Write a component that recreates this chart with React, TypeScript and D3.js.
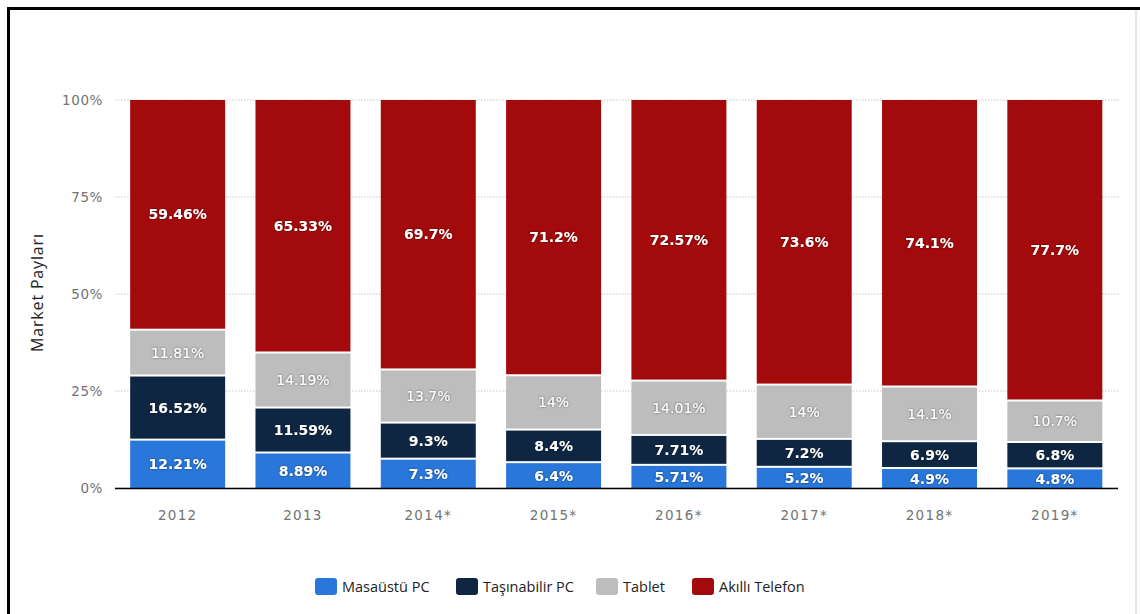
import React from "react";
import * as d3 from "d3";

const years = ["2012", "2013", "2014*", "2015*", "2016*", "2017*", "2018*", "2019*"];
const masaustu = [12.21, 8.89, 7.3, 6.4, 5.71, 5.2, 4.9, 4.8];
const tasinabilir = [16.52, 11.59, 9.3, 8.4, 7.71, 7.2, 6.9, 6.8];
const tablet = [11.81, 14.19, 13.7, 14, 14.01, 14, 14.1, 10.7];
const akilli = [59.46, 65.33, 69.7, 71.2, 72.57, 73.6, 74.1, 77.7];
const seriesNames = ["Masaüstü PC", "Taşınabilir PC", "Tablet", "Akıllı Telefon"];
const seriesColors = ["#2a77db", "#0f2642", "#bdbdbd", "#a30a0b"];
const yTicks = [0, 25, 50, 75, 100];

const W = 1140;
const H = 614;

export default function App() {
  const x = d3.scaleBand<string>().domain(years).range([115, 1117.5]).paddingInner(0.242).paddingOuter(0.121);
  const y = d3.scaleLinear().domain([0, 100]).range([488, 100]);
  const series = [masaustu, tasinabilir, tablet, akilli];
  const rows = years.map((yr, i) => {
    const o: any = { year: yr };
    seriesNames.forEach((n, s) => (o[n] = series[s][i]));
    return o;
  });
  const stacked = d3.stack<any>().keys(seriesNames)(rows);

  const legendX = [315, 456, 596, 692];
  const fontLbl = "'DejaVu Sans', Verdana, sans-serif";

  return (
    <div style={{ position: "fixed", left: 0, top: 0, width: W, height: H, background: "#fff" }}>
      <svg width={W} height={H} style={{ display: "block" }}>
        <defs>
          <filter id="sh" x="-20%" y="-40%" width="140%" height="180%">
            <feDropShadow dx="0" dy="0" stdDeviation="1.2" floodColor="#000" floodOpacity="0.55" />
          </filter>
        </defs>
        <rect x={0} y={0} width={W} height={H} fill="#fff" />
        {/* frame */}
        <line x1={1136} y1={10} x2={1136} y2={H} stroke="#dcdcdc" strokeWidth={1.5} />
        <rect x={7} y={7} width={W - 7} height={3} fill="#000" />
        <rect x={7} y={7} width={3} height={H - 7} fill="#000" />

        {/* gridlines */}
        {yTicks.map((t) => (
          <line key={"g" + t} x1={115} x2={1120} y1={y(t)} y2={y(t)} stroke="#c8c8c8" strokeWidth={1} strokeDasharray="1.5,1.5" />
        ))}
        {/* y tick labels */}
        {yTicks.map((t) => (
          <text key={"t" + t} x={103} y={y(t)} dy="0.35em" textAnchor="end" fontSize={13.5} fill="#727272" fontFamily={fontLbl} letterSpacing={0.6}>
            {t + "%"}
          </text>
        ))}
        {/* y title */}
        <text
          transform={`translate(43,293) rotate(-90)`}
          textAnchor="middle"
          fontSize={16}
          fill="#222"
          fontFamily="'Open Sans', sans-serif"
          textLength={118}
          lengthAdjust="spacing"
        >
          Market Payları
        </text>

        {/* bars */}
        {stacked.map((layer, s) =>
          layer.map((d, i) => {
            const yr = years[i];
            const top = y(d[1]);
            const bot = y(d[0]);
            const h = bot - top - (s === 0 ? 0 : 2);
            return (
              <rect key={s + "-" + i} x={x(yr)} y={top} width={x.bandwidth()} height={h} fill={seriesColors[s]} />
            );
          })
        )}
        {/* labels */}
        {stacked.map((layer, s) =>
          layer.map((d, i) => {
            const yr = years[i];
            const top = y(d[1]);
            const bot = y(d[0]) - (s === 0 ? 0 : 2);
            return (
              <text
                key={"l" + s + "-" + i}
                x={(x(yr) as number) + x.bandwidth() / 2}
                y={(top + bot) / 2}
                dy="0.36em"
                textAnchor="middle"
                fontSize={14}
                fontWeight={s === 2 ? "normal" : "bold"}
                fill="#fff"
                fontFamily={fontLbl}
                filter="url(#sh)"
              >
                {series[s][i] + "%"}
              </text>
            );
          })
        )}

        {/* axis baseline */}
        <line x1={115} x2={1118} y1={488.5} y2={488.5} stroke="#000" strokeWidth={1.3} />
        {/* x labels */}
        {years.map((yr) => (
          <text
            key={"x" + yr}
            x={(x(yr) as number) + x.bandwidth() / 2}
            y={515}
            dy="0.35em"
            textAnchor="middle"
            fontSize={13.5}
            fill="#727272"
            fontFamily={fontLbl}
            letterSpacing={1.3}
          >
            {yr}
          </text>
        ))}

        {/* legend */}
        {seriesNames.map((n, s) => (
          <g key={"lg" + n} transform={`translate(${legendX[s]},578)`}>
            <rect x={0} y={0} width={22} height={17} rx={3} fill={seriesColors[s]} />
            <text x={27} y={9} dy="0.35em" fontSize={14.5} fill="#222" fontFamily="'Open Sans', sans-serif">
              {n}
            </text>
          </g>
        ))}
      </svg>
    </div>
  );
}
